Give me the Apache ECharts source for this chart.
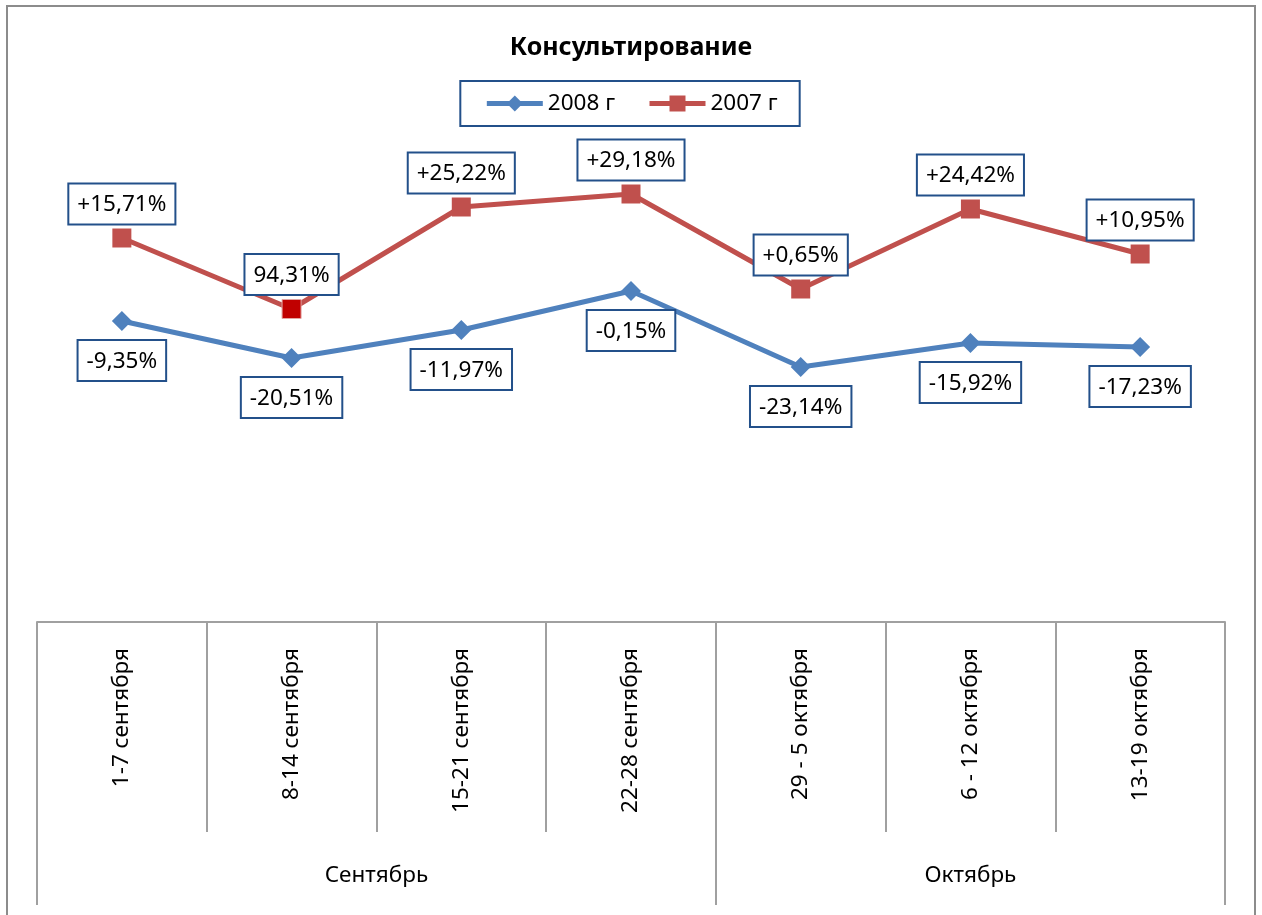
<!DOCTYPE html>
<html>
<head>
<meta charset="utf-8">
<script src="https://cdn.jsdelivr.net/npm/echarts@6/dist/echarts.min.js"></script>
<style>
  html, body { margin: 0; padding: 0; background: #fff; }
  #chart { width: 1262px; height: 915px; }
</style>
</head>
<body>
<div id="chart"></div>
<script>
// weeks on the x axis
const weeks = ['1-7 сентября', '8-14 сентября', '15-21 сентября', '22-28 сентября', '29 - 5 октября', '6 - 12 октября', '13-19 октября']
// month groups: name, first/last boundary (in category units)
const months = ['Сентябрь', 'Октябрь']
const monthStart = [0, 4]
const monthEnd = [4, 7]

// line heights (no visible value axis)
const values2008 = [60.2, 52.8, 58.4, 66.2, 51.0, 55.8, 55.0]
const values2007 = [76.8, 62.6, 83.0, 85.6, 66.6, 82.6, 73.6]
// data label texts
const labels2008 = ['-9,35%', '-20,51%', '-11,97%', '-0,15%', '-23,14%', '-15,92%', '-17,23%']
const labels2007 = ['+15,71%', '94,31%', '+25,22%', '+29,18%', '+0,65%', '+24,42%', '+10,95%']
const highlight2007 = 1

const FONT = '"Noto Sans", "Liberation Sans", sans-serif'
const BLUE = '#4F81BD'
const RED = '#C0504D'
const BOX = '#23508A'
const AXIS = '#a0a0a0'

const chart = echarts.init(document.getElementById('chart'), null, { renderer: 'canvas' })

const boxLabel = (texts, position, distance) => ({
  show: true,
  position,
  distance,
  formatter: (p) => texts[p.dataIndex],
  color: '#000',
  fontFamily: FONT,
  fontSize: 22.5,
  lineHeight: 25,
  backgroundColor: '#fff',
  borderColor: BOX,
  borderWidth: 2,
  padding: [8, 8, 6, 8],
})

const groupTicks = [...new Set([...monthStart, ...monthEnd])]
const groupCenters = months.map((_, i) => (monthStart[i] + monthEnd[i]) / 2)

chart.setOption({
  backgroundColor: '#fff',
  animation: false,
  graphic: [
    {
      type: 'rect',
      shape: { x: 7, y: 6, width: 1248, height: 930 },
      style: { fill: 'none', stroke: '#8c8c8c', lineWidth: 2 },
      silent: true,
    },
  ],
  title: {
    text: 'Консультирование',
    left: 'center',
    top: 30,
    textStyle: { fontFamily: FONT, fontSize: 25, fontWeight: 'bold', color: '#000' },
  },
  legend: {
    left: 'center',
    top: 81,
    padding: [11, 22, 11, 24],
    borderColor: BOX,
    borderWidth: 2,
    itemWidth: 56,
    itemHeight: 20,
    itemGap: 32,
    lineStyle: { width: 5 },
    textStyle: { fontFamily: FONT, fontSize: 22.5, color: '#000' },
    data: ['2008 г', '2007 г'],
  },
  grid: { left: 37, right: 37, top: 122, bottom: 293, outerBoundsMode: 'none' },
  xAxis: [
    {
      type: 'category',
      data: weeks,
      boundaryGap: true,
      axisLine: { show: true, lineStyle: { color: AXIS, width: 2 } },
      axisTick: { show: true, interval: 0, length: 210, lineStyle: { color: AXIS, width: 2 } },
      axisLabel: {
        interval: 0,
        rotate: 90,
        margin: 26,
        color: '#000',
        fontFamily: FONT,
        fontSize: 22.5,
      },
    },
    {
      type: 'value',
      position: 'bottom',
      offset: 210,
      min: 0,
      max: weeks.length,
      axisLine: { show: false },
      splitLine: { show: false },
      axisTick: { show: true, customValues: groupTicks, length: 73, lineStyle: { color: AXIS, width: 2 } },
      axisLabel: {
        customValues: groupCenters,
        margin: 32,
        color: '#000',
        fontFamily: FONT,
        fontSize: 22.5,
        formatter: (v) => months[groupCenters.indexOf(v)] || '',
      },
    },
  ],
  yAxis: { type: 'value', min: 0, max: 100, show: false },
  series: [
    {
      name: '2008 г',
      type: 'line',
      xAxisIndex: 0,
      data: values2008,
      symbol: 'diamond',
      symbolSize: 20,
      lineStyle: { color: BLUE, width: 5 },
      itemStyle: { color: BLUE },
      label: boxLabel(labels2008, 'bottom', 10),
      z: 2,
    },
    {
      name: '2007 г',
      type: 'line',
      xAxisIndex: 0,
      data: values2007.map((v, i) =>
        i === highlight2007
          ? { value: v, itemStyle: { color: '#C00000', borderColor: '#E3A3A1', borderWidth: 1 } }
          : v,
      ),
      symbol: 'rect',
      symbolSize: 19,
      lineStyle: { color: RED, width: 5 },
      itemStyle: { color: RED },
      label: boxLabel(labels2007, 'top', 5),
      z: 3,
    },
  ],
})
</script>
</body>
</html>
